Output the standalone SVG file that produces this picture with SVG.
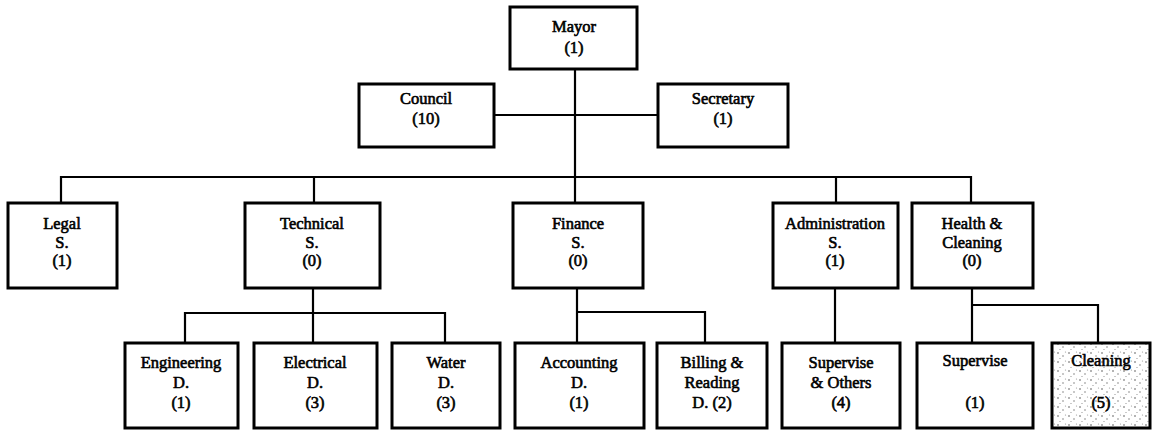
<svg xmlns="http://www.w3.org/2000/svg" width="1156" height="431" viewBox="0 0 1156 431">
  <style>
    .box { fill: #fff; stroke: #000; stroke-width: 3; }
    .lbl { font-family: "Liberation Serif", "Times New Roman", serif; font-size: 16.5px; fill: #000; text-anchor: middle; stroke: #000; stroke-width: 0.6; }
    .wire { fill: none; stroke: #000; stroke-width: 2.2; }
  </style>
  <defs>
    <!-- grainy stipple used for the cleaning unit -->
    <pattern id="stipple" width="11" height="9" patternUnits="userSpaceOnUse">
      <rect width="11" height="9" fill="#fff"/>
      <circle cx="2" cy="2" r="0.8" fill="#555"/>
      <circle cx="7" cy="5" r="0.7" fill="#666"/>
      <circle cx="4" cy="7.5" r="0.6" fill="#888"/>
      <circle cx="9.5" cy="1" r="0.6" fill="#999"/>
    </pattern>
  </defs>

  <g id="connectors">
    <path class="wire" d="M575 69 V177"/>
    <path class="wire" d="M494 115 H658"/>
    <path class="wire" d="M61 203 V177 H971 V203"/>
    <path class="wire" d="M314 177 V203"/>
    <path class="wire" d="M575 177 V203"/>
    <path class="wire" d="M836 177 V203"/>
    <path class="wire" d="M313 288 V343"/>
    <path class="wire" d="M185 343 V313 H445 V343"/>
    <path class="wire" d="M577 288 V343"/>
    <path class="wire" d="M577 312 H705 V343"/>
    <path class="wire" d="M835 288 V343"/>
    <path class="wire" d="M972 288 V343"/>
    <path class="wire" d="M972 305 H1098 V343"/>
  </g>

  <g id="mayor">
    <rect class="box" x="510" y="7" width="127" height="62"/>
    <text class="lbl" x="574" y="32">Mayor</text>
    <text class="lbl" x="574" y="53">(1)</text>
  </g>
  <g id="council">
    <rect class="box" x="359" y="84" width="135" height="63"/>
    <text class="lbl" x="426" y="104">Council</text>
    <text class="lbl" x="426" y="124">(10)</text>
  </g>
  <g id="secretary">
    <rect class="box" x="658" y="84" width="130" height="63"/>
    <text class="lbl" x="723" y="104">Secretary</text>
    <text class="lbl" x="723" y="124">(1)</text>
  </g>

  <g id="legal">
    <rect class="box" x="8" y="203" width="109" height="85"/>
    <text class="lbl" x="62" y="229">Legal</text>
    <text class="lbl" x="62" y="247.5">S.</text>
    <text class="lbl" x="62" y="266">(1)</text>
  </g>
  <g id="technical">
    <rect class="box" x="245" y="203" width="135" height="85"/>
    <text class="lbl" x="312" y="229">Technical</text>
    <text class="lbl" x="312" y="247.5">S.</text>
    <text class="lbl" x="312" y="266">(0)</text>
  </g>
  <g id="finance">
    <rect class="box" x="513" y="203" width="130" height="85"/>
    <text class="lbl" x="578" y="229">Finance</text>
    <text class="lbl" x="578" y="247.5">S.</text>
    <text class="lbl" x="578" y="266">(0)</text>
  </g>
  <g id="administration">
    <rect class="box" x="773" y="203" width="125" height="85"/>
    <text class="lbl" x="835" y="229">Administration</text>
    <text class="lbl" x="835" y="247.5">S.</text>
    <text class="lbl" x="835" y="266">(1)</text>
  </g>
  <g id="health">
    <rect class="box" x="912" y="203" width="121" height="85"/>
    <text class="lbl" x="972" y="229">Health &amp;</text>
    <text class="lbl" x="972" y="247.5">Cleaning</text>
    <text class="lbl" x="972" y="266">(0)</text>
  </g>

  <g id="engineering">
    <rect class="box" x="125" y="343" width="113" height="85"/>
    <text class="lbl" x="181" y="368">Engineering</text>
    <text class="lbl" x="181" y="388">D.</text>
    <text class="lbl" x="181" y="408">(1)</text>
  </g>
  <g id="electrical">
    <rect class="box" x="254" y="343" width="123" height="85"/>
    <text class="lbl" x="315" y="368">Electrical</text>
    <text class="lbl" x="315" y="388">D.</text>
    <text class="lbl" x="315" y="408">(3)</text>
  </g>
  <g id="water">
    <rect class="box" x="392" y="343" width="108" height="85"/>
    <text class="lbl" x="446" y="368">Water</text>
    <text class="lbl" x="446" y="388">D.</text>
    <text class="lbl" x="446" y="408">(3)</text>
  </g>
  <g id="accounting">
    <rect class="box" x="515" y="343" width="129" height="85"/>
    <text class="lbl" x="579" y="368">Accounting</text>
    <text class="lbl" x="579" y="388">D.</text>
    <text class="lbl" x="579" y="408">(1)</text>
  </g>
  <g id="billing">
    <rect class="box" x="657" y="343" width="110" height="85"/>
    <text class="lbl" x="712" y="368">Billing &amp;</text>
    <text class="lbl" x="712" y="388">Reading</text>
    <text class="lbl" x="712" y="408">D. (2)</text>
  </g>
  <g id="supervise-others">
    <rect class="box" x="782" y="343" width="118" height="85"/>
    <text class="lbl" x="841" y="368">Supervise</text>
    <text class="lbl" x="841" y="388">&amp; Others</text>
    <text class="lbl" x="841" y="408">(4)</text>
  </g>
  <g id="supervise">
    <rect class="box" x="917" y="343" width="116" height="85"/>
    <text class="lbl" x="975" y="366">Supervise</text>
    <text class="lbl" x="975" y="408">(1)</text>
  </g>
  <g id="cleaning">
    <rect class="box" x="1052" y="343" width="98" height="85" style="fill:url(#stipple)"/>
    <text class="lbl" x="1101" y="366">Cleaning</text>
    <text class="lbl" x="1101" y="408">(5)</text>
  </g>
</svg>
